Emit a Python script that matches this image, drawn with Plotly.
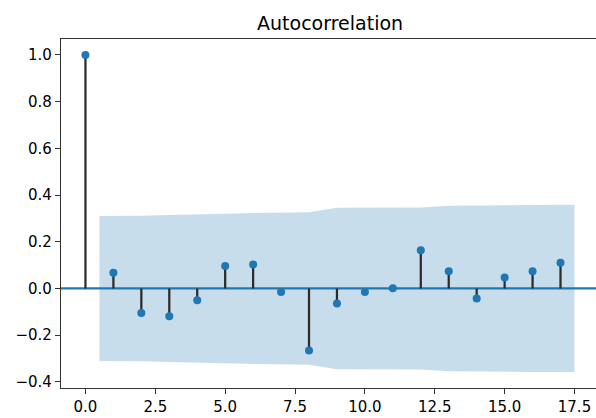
import plotly.graph_objects as go

# ---- data ----
lags = list(range(18))
acf_values = [1.0, 0.067, -0.105, -0.119, -0.050, 0.096, 0.103, -0.015, -0.265,
              -0.064, -0.015, 0.001, 0.164, 0.074, -0.043, 0.047, 0.074, 0.110]
band_x = [0.5, 2, 3, 4, 5, 6, 7, 8, 9, 10, 11, 12, 13, 14, 15, 16, 17.5]
band_upper = [0.310, 0.311, 0.315, 0.319, 0.320, 0.323, 0.326, 0.326, 0.346,
              0.347, 0.347, 0.347, 0.354, 0.356, 0.356, 0.357, 0.358]
band_lower = [-v for v in band_upper]
x_ticks = [0, 2.5, 5, 7.5, 10, 12.5, 15, 17.5]
y_ticks = [-0.4, -0.2, 0.0, 0.2, 0.4, 0.6, 0.8, 1.0]
title_text = "Autocorrelation"

C0 = "#1f77b4"
FONT = "DejaVu Sans"

fig = go.Figure()

# confidence band
fig.add_trace(go.Scatter(
    x=band_x + band_x[::-1],
    y=band_upper + band_lower[::-1],
    fill="toself", fillcolor="rgba(31,119,180,0.25)",
    line=dict(width=0), mode="lines", hoverinfo="skip", showlegend=False))

# stems
sx, sy = [], []
for l, v in zip(lags, acf_values):
    sx += [l, l, None]
    sy += [0, v, None]
fig.add_trace(go.Scatter(x=sx, y=sy, mode="lines",
                         line=dict(color="#2b2b2b", width=2.25),
                         showlegend=False, hoverinfo="skip"))

# markers
fig.add_trace(go.Scatter(x=lags, y=acf_values, mode="markers",
                         marker=dict(color=C0, size=8, line=dict(width=0)),
                         showlegend=False))

# zero line
fig.add_shape(type="line", xref="paper", x0=0, x1=1, yref="y", y0=0, y1=0,
              line=dict(color=C0, width=2.25), layer="below")

axis_common = dict(showgrid=False, zeroline=False, showline=True,
                   linecolor="#333333", linewidth=1.2,
                   ticks="outside", ticklen=5, tickwidth=1.2, tickcolor="#333333",
                   tickfont=dict(family=FONT, size=15, color="black"),
                   tickformat=".1f")

fig.update_xaxes(range=[-0.875, 18.27], tickvals=x_ticks, mirror=True, **axis_common)
fig.update_yaxes(range=[-0.426, 1.068], tickvals=y_ticks, mirror=False, **axis_common)

fig.update_layout(
    width=596, height=418,
    margin=dict(l=61, r=0, t=39, b=30),
    paper_bgcolor="white", plot_bgcolor="white",
    title=dict(text=title_text, x=0.503, xref="paper", xanchor="center",
               y=1 - 23.5 / 418, yref="container", yanchor="middle",
               font=dict(family=FONT, size=19, color="black")),
    showlegend=False,
)

fig.write_html("out.html",
               config={"displayModeBar": False},
               post_script="document.body.style.margin='0';"
                           "document.body.style.overflow='hidden';")
